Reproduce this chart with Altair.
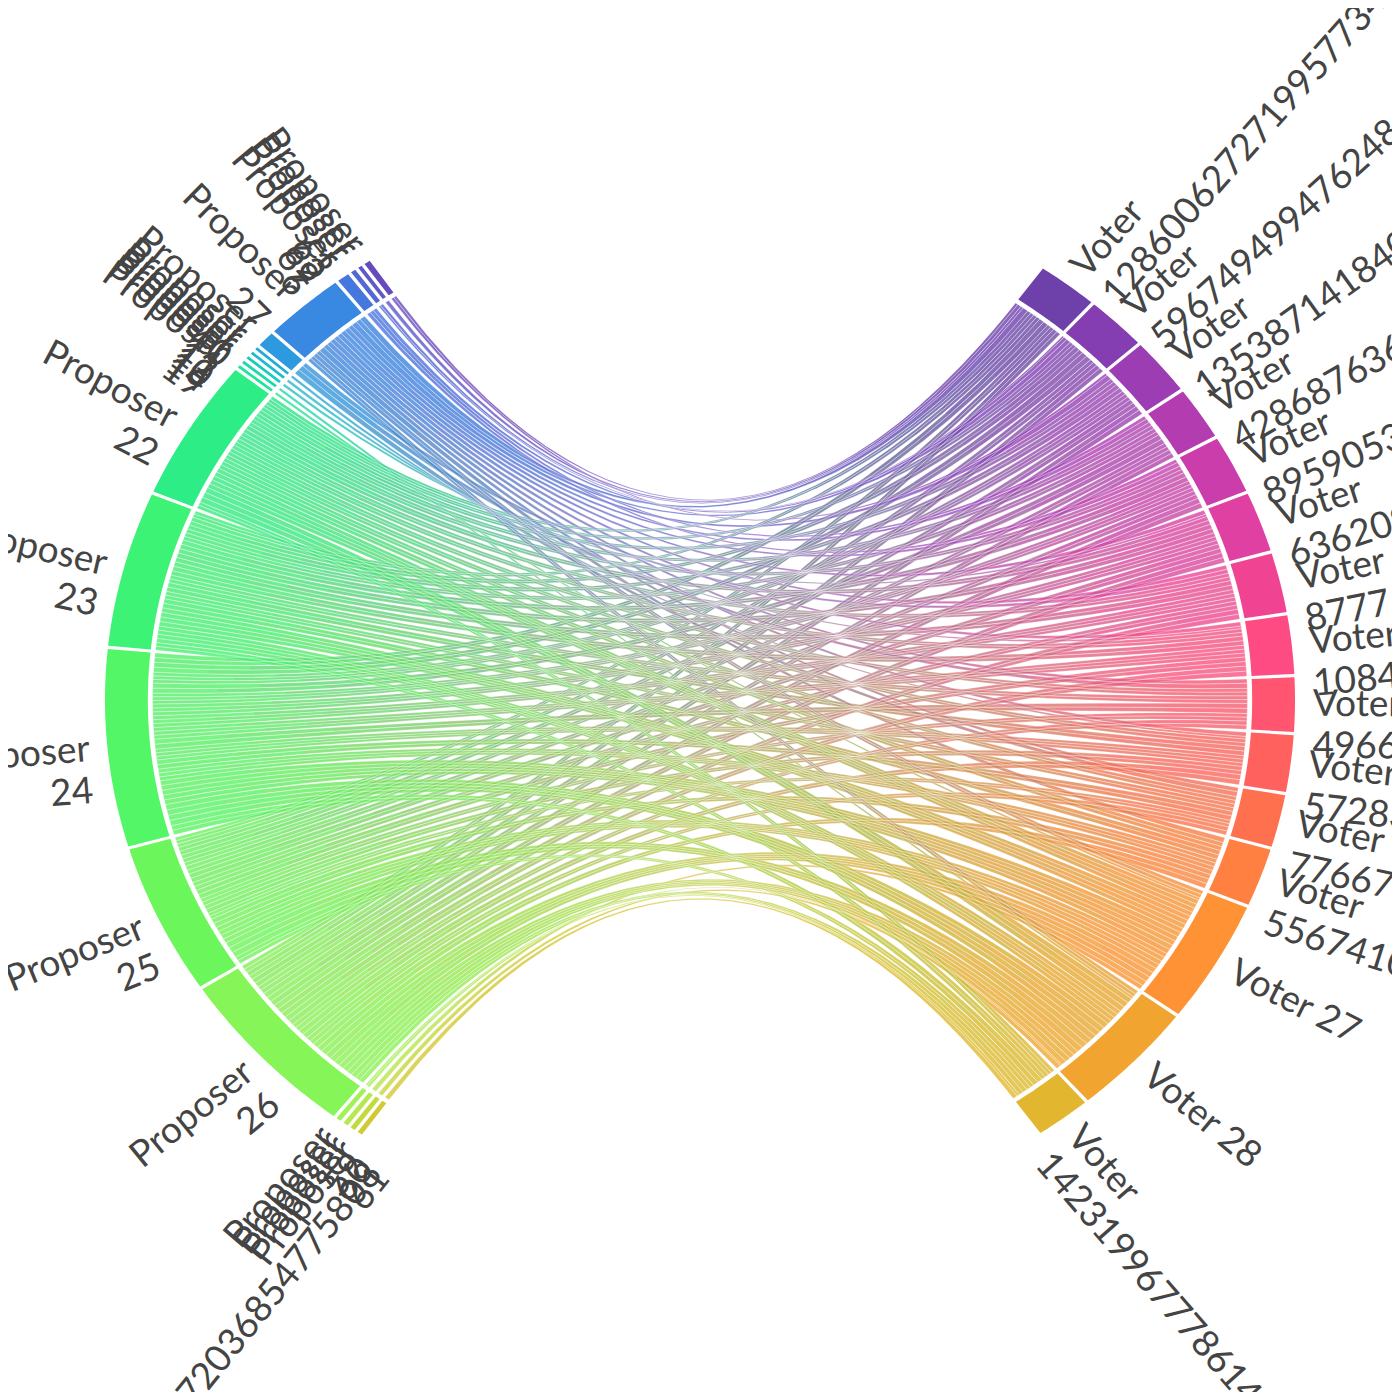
import math
import numpy as np
import pandas as pd
import altair as alt

alt.data_transformers.disable_max_rows()

# ---------------- data ----------------
voter_labels = [
    "Voter\n1286006272719957734", "Voter\n5967494994762486273", "Voter\n1353871418400713458",
    "Voter\n4286876363517820941", "Voter\n8959053120047513682", "Voter\n6362094418870325176",
    "Voter\n8777613349201853570", "Voter\n1084497201635581132", "Voter\n4966802117384502196",
    "Voter\n5728310946652079483", "Voter\n7766741058311290664", "Voter\n5567410983326617205",
    "Voter 27", "Voter 28", "Voter\n1423199677786142057",
]
proposer_labels = [
    "Proposer\n61", "Proposer\n9223372036854775808", "Proposer\n60", "Proposer\n59",
    "Proposer\n26", "Proposer\n25", "Proposer\n24", "Proposer\n23", "Proposer\n22",
    "Proposer\n19", "Proposer\n14", "Proposer\n10", "Proposer\n12", "Proposer\n11",
    "Proposer\n40", "Proposer\n27", "Proposer\n6", "Proposer\n69", "Proposer\n62", "Proposer\n63",
]
# rows: proposers (clockwise from bottom-left), cols: voters (clockwise from top-right)
links = [
    [0, 0, 0, 0, 0, 0, 0, 0, 0, 0, 0, 0, 0, 0, 5],
    [0, 0, 0, 0, 0, 0, 0, 0, 0, 0, 0, 0, 0, 5, 0],
    [0, 0, 0, 0, 0, 0, 0, 0, 0, 0, 0, 0, 5, 0, 0],
    [0, 0, 0, 0, 0, 0, 0, 0, 0, 0, 0, 0, 0, 2, 3],
    [9, 10, 11, 10, 12, 12, 12, 12, 10, 12, 10, 12, 25, 23, 10],
    [8, 9, 10, 9, 10, 11, 10, 11, 9, 10, 8, 11, 21, 20, 9],
    [11, 12, 13, 12, 13, 14, 14, 14, 12, 13, 11, 14, 29, 26, 11],
    [8, 10, 10, 9, 11, 11, 11, 11, 9, 11, 9, 11, 22, 20, 9],
    [8, 8, 9, 9, 9, 10, 9, 9, 9, 9, 9, 10, 21, 19, 8],
    [0, 0, 0, 0, 0, 0, 0, 0, 0, 0, 0, 0, 3, 0, 0],
    [0, 0, 0, 0, 0, 0, 0, 0, 0, 0, 0, 0, 0, 3, 0],
    [0, 0, 0, 0, 0, 3, 0, 0, 0, 0, 0, 0, 0, 0, 0],
    [0, 0, 0, 0, 0, 0, 0, 3, 0, 0, 0, 0, 0, 0, 0],
    [0, 0, 0, 0, 0, 0, 0, 0, 0, 3, 0, 0, 0, 0, 0],
    [0, 0, 0, 0, 0, 0, 5, 0, 6, 0, 6, 0, 0, 0, 0],
    [6, 5, 6, 5, 5, 5, 5, 5, 5, 5, 5, 6, 9, 8, 0],
    [0, 4, 0, 4, 4, 0, 0, 0, 0, 0, 0, 0, 0, 0, 0],
    [3, 2, 0, 0, 0, 0, 0, 0, 0, 0, 0, 0, 0, 0, 0],
    [4, 0, 0, 0, 0, 0, 0, 0, 0, 0, 0, 0, 0, 0, 0],
    [3, 0, 3, 0, 0, 0, 0, 0, 0, 0, 0, 0, 0, 0, 0],
]
# number of separate votes (ribbons) behind each link
ribbons_per_link = [
    [1] * 15, [1] * 15, [1] * 15, [1] * 15,
    [2, 2, 2, 2, 2, 2, 2, 2, 2, 2, 2, 2, 4, 4, 2],
    [2, 2, 2, 2, 2, 2, 2, 2, 2, 2, 2, 2, 4, 3, 2],
    [2, 2, 3, 2, 3, 3, 3, 3, 2, 3, 2, 3, 5, 4, 2],
    [2, 2, 2, 2, 2, 2, 2, 2, 2, 2, 2, 2, 4, 4, 2],
    [2, 2, 2, 2, 2, 2, 2, 2, 2, 2, 2, 2, 4, 3, 2],
    [1] * 15, [1] * 15, [1] * 15, [1] * 15, [1] * 15, [1] * 15,
    [1, 1, 1, 1, 1, 1, 1, 1, 1, 1, 1, 1, 2, 2, 1],
    [1] * 15, [1] * 15, [1] * 15, [1] * 15,
]

# ---------------- layout ----------------
NV, NP = len(voter_labels), len(proposer_labels)
N = NV + NP
M = np.array(links, dtype=float)
vtot = M.sum(axis=0)
ptot = M.sum(axis=1)
total = M.sum()
PAD = 0.35
K = 105.0 / total
R_RIB, R_IN, R_OUT, R_LAB = 0.92, 0.928, 1.0, 1.03


def rainbow(t):
    t = t - math.floor(t)
    ts = abs(t - 0.5)
    h = 360 * t - 100
    s = 1.5 - 1.5 * ts
    l = 0.8 - 0.9 * ts
    hr = math.radians(h + 120)
    a = s * l * (1 - l)
    c, sn = math.cos(hr), math.sin(hr)
    r = l + a * (-0.14861 * c + 1.78277 * sn)
    g = l + a * (-0.29227 * c - 0.90649 * sn)
    b = l + a * (1.97294 * c)
    return [max(0.0, min(1.0, v)) * 255 for v in (r, g, b)]


def hexc(rgb):
    return "#%02x%02x%02x" % tuple(int(round(v)) for v in rgb)


node_rgb = [rainbow(i / N) for i in range(N)]


def pt(a, r):
    ra = math.radians(a)
    return (r * math.cos(ra), r * math.sin(ra))


def arc(a0, a1, r, step=0.4):
    n = max(2, int(abs(a1 - a0) / step) + 2)
    return [pt(a, r) for a in np.linspace(a0, a1, n)]


node_rng = {}
start = -0.15 + (total * K + (NV - 1) * PAD) / 2
for v in range(NV):
    node_rng[v] = (start, start - vtot[v] * K)
    start = start - vtot[v] * K - PAD
start = 179.55 + (total * K + (NP - 1) * PAD) / 2
for p in range(NP):
    node_rng[NV + p] = (start, start - ptot[p] * K)
    start = start - ptot[p] * K - PAD

# subgroups ordered so that the fans do not twist
sub_p, sub_v = {}, {}
for p in range(NP):
    cur = node_rng[NV + p][0]
    for v in reversed(range(NV)):
        if M[p, v] > 0:
            c = ribbons_per_link[p][v]
            w = M[p, v] * K / c
            for kk in range(c):
                sub_p[(p, v, kk)] = (cur, cur - w)
                cur -= w
for v in range(NV):
    cur = node_rng[v][0]
    for p in reversed(range(NP)):
        if M[p, v] > 0:
            c = ribbons_per_link[p][v]
            w = M[p, v] * K / c
            for kk in reversed(range(c)):
                sub_v[(p, v, kk)] = (cur, cur - w)
                cur -= w

# ---------------- geometry tables ----------------
piece_rows, outline_rows, arc_rows, lab_rows = [], [], [], []
NPIECE = 10
EPS = 0.0003


def bz(P, Q, u):
    return ((1 - u) ** 2 * P[0] + u * u * Q[0], (1 - u) ** 2 * P[1] + u * u * Q[1])


for idx, (key, (ps0, ps1)) in enumerate(sub_p.items()):
    p, v, kk = key
    vt0, vt1 = sub_v[key]
    S0, S1, T0, T1 = pt(ps0, R_RIB), pt(ps1, R_RIB), pt(vt0, R_RIB), pt(vt1, R_RIB)
    src, tgt = node_rgb[NV + p], node_rgb[v]
    # piece boundaries staggered from ribbon to ribbon so seams do not line up
    shift = ((idx * 0.61803) % 1.0) / NPIECE
    us = [0.0] + [min(1.0, (j + 1) / NPIECE - shift + 0.5 / NPIECE) for j in range(NPIECE - 1)] + [1.0]
    for j in range(NPIECE):
        ua, ub = us[j], min(1.0, us[j + 1] + (EPS if j < NPIECE - 1 else 0))
        pts = []
        if j == 0:
            pts += arc(ps0, ps1, R_RIB)
        pts += [bz(S1, T0, u) for u in np.linspace(ua, ub, 4)]
        if j == NPIECE - 1:
            pts += arc(vt0, vt1, R_RIB)
        pts += [bz(S0, T1, u) for u in np.linspace(ub, ua, 4)]
        f = (ua + ub) / 2
        col = hexc([src[c] * (1 - f) + tgt[c] * f for c in range(3)])
        pid = f"r{p}_{v}_{kk}_{j}"
        for o, (x, y) in enumerate(pts):
            piece_rows.append((pid, o, x, y, col))
    opts = arc(ps0, ps1, R_RIB) + [bz(S1, T0, u) for u in np.linspace(0, 1, 24)] \
        + arc(vt0, vt1, R_RIB) + [bz(S0, T1, u) for u in np.linspace(1, 0, 24)]
    opts.append(opts[0])
    for o, (x, y) in enumerate(opts):
        outline_rows.append((f"o{p}_{v}_{kk}", o, x, y))

for i in range(N):
    a0, a1 = node_rng[i]
    pts = arc(a0, a1, R_OUT) + arc(a1, a0, R_IN)
    for o, (x, y) in enumerate(pts):
        arc_rows.append((f"n{i}", o, x, y, hexc(node_rgb[i])))
    mid = (a0 + a1) / 2
    x, y = pt(mid, R_LAB)
    scr = math.degrees(math.atan2(-math.sin(math.radians(mid)) * 528, math.cos(math.radians(mid)) * 595))
    if i < NV:
        lab_rows.append((x, y, voter_labels[i], scr % 360, "R"))
    else:
        lab_rows.append((x, y, proposer_labels[i - NV], (scr + 180) % 360, "L"))

pieces = pd.DataFrame(piece_rows, columns=["pid", "o", "x", "y", "col"])
outlines = pd.DataFrame(outline_rows, columns=["rid", "o", "x", "y"])
arcs = pd.DataFrame(arc_rows, columns=["nid", "o", "x", "y", "col"])
labs = pd.DataFrame(lab_rows, columns=["x", "y", "text", "ang", "side"])

XM, YM = 692 / 595, 692 / 528
X = alt.X("x:Q", scale=alt.Scale(domain=[-XM, XM], nice=False, zero=False), axis=None)
Y = alt.Y("y:Q", scale=alt.Scale(domain=[-YM, YM], nice=False, zero=False), axis=None)

ribbon_layer = alt.Chart(pieces).mark_line(filled=True, opacity=0.8, strokeWidth=0).encode(
    x=X, y=Y, detail="pid:N", order="o:Q", color=alt.Color("col:N", scale=None))
outline_layer = alt.Chart(outlines).mark_line(color="white", strokeWidth=0.5, opacity=0.5).encode(
    x=X, y=Y, detail="rid:N", order="o:Q")
arc_layer = alt.Chart(arcs).mark_line(filled=True, opacity=1, strokeWidth=0).encode(
    x=X, y=Y, detail="nid:N", order="o:Q", color=alt.Color("col:N", scale=None))
txt = dict(font="Lato", fontSize=37, color="#444444", baseline="middle", lineBreak="\n", lineHeight=42)
lab_r = alt.Chart(labs[labs.side == "R"]).mark_text(align="left", **txt).encode(
    x=X, y=Y, text="text:N", angle=alt.Angle("ang:Q", scale=None))
lab_l = alt.Chart(labs[labs.side == "L"]).mark_text(align="right", **txt).encode(
    x=X, y=Y, text="text:N", angle=alt.Angle("ang:Q", scale=None))

chart = alt.layer(ribbon_layer, outline_layer, arc_layer, lab_r, lab_l).properties(
    width=1384, height=1384, autosize=alt.AutoSizeParams(type="none"), padding=0,
    background="white",
).configure_view(stroke=None)

chart.save("out.html", embed_options={"renderer": "svg", "actions": False})
